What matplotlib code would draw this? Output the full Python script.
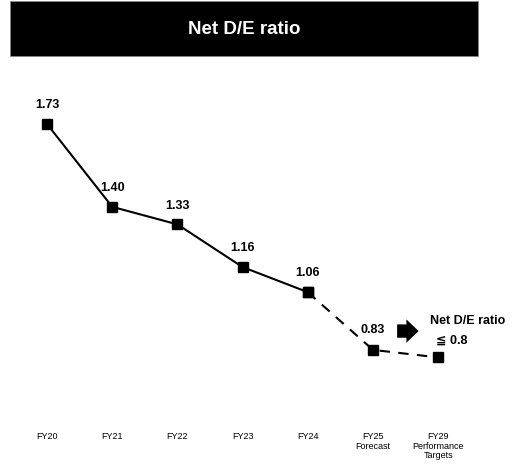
import matplotlib
matplotlib.use("Agg")
import matplotlib.pyplot as plt
from matplotlib.patches import Rectangle
import matplotlib.transforms as mtransforms

categories = ["FY20", "FY21", "FY22", "FY23", "FY24", "FY25\nForecast", "FY29\nPerformance\nTargets"]
values = [1.73, 1.40, 1.33, 1.16, 1.06, 0.83, 0.80]
value_labels = ["1.73", "1.40", "1.33", "1.16", "1.06", "0.83", None]
title = "Net D/E ratio"
target_label = "Net D/E ratio"
target_value = "≦ 0.8"

plt.rcParams['font.family'] = ['Liberation Sans', 'DejaVu Sans']

W, H = 512, 477
fig = plt.figure(figsize=(W / 100, H / 100), dpi=100)
ax = fig.add_axes([0, 0, 1, 1])
ax.set_xlim(-0.721, 7.132)
ax.set_ylim(0.3276, 2.228)
ax.axis('off')

x = list(range(len(values)))
# solid part
ax.plot(x[:5], values[:5], color='black', lw=1.5, marker='s', ms=7.5, zorder=3)
# dashed part
ax.plot(x[4:], values[4:], color='black', lw=1.5, ls=(0, (5, 4)), marker='s', ms=7.5, zorder=3)

for xi, v, lab in zip(x, values, value_labels):
    if lab is None:
        continue
    off = 11 if xi == 5 else 10
    ax.annotate(lab, (xi, v), xytext=(0, off), textcoords='offset points',
                ha='center', va='bottom', fontsize=9, fontweight='bold')

# x tick labels
trans = mtransforms.blended_transform_factory(ax.transData, ax.transAxes)
for xi, c in zip(x, categories):
    ax.text(xi, 1 - 432 / H, c, transform=trans, ha='center', va='top',
            fontsize=6.5, linespacing=1.1)

# target annotation with block arrow
ax.annotate('', xy=(5.70, 0.905), xytext=(5.37, 0.905),
            arrowprops=dict(arrowstyle='simple,head_length=0.55,head_width=1.05,tail_width=0.6',
                            mutation_scale=16, color='black', lw=0,
                            shrinkA=0, shrinkB=0))
ax.text(5.88, 0.95, target_label, ha='left', va='center',
        fontsize=9, fontweight='bold')
ax.text(5.97, 0.87, target_value, ha='left', va='center',
        fontsize=9, fontweight='bold')

# title banner
fig.patches.append(Rectangle((10 / W, 1 - 57 / H), 468 / W, 55 / H,
                             transform=fig.transFigure, facecolor='black',
                             edgecolor='#888888', lw=0.5))
fig.text(244 / W, 1 - 30 / H, title, color='white', ha='center', va='center',
         fontsize=13.5, fontweight='bold')

fig.savefig("out.png", dpi=100)
